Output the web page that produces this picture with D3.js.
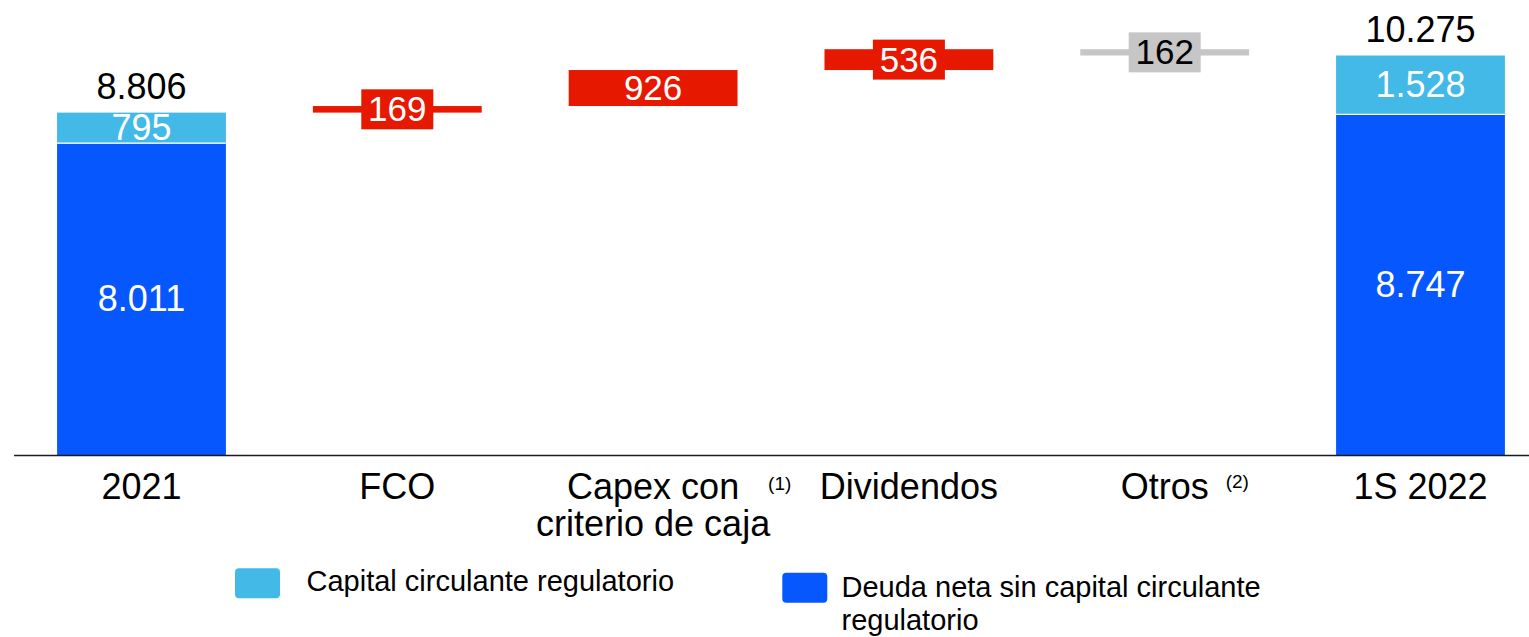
<!DOCTYPE html>
<html>
<head>
<meta charset="utf-8">
<script src="https://cdn.jsdelivr.net/npm/d3@7"></script>
<style>
  body { margin: 0; background: #fff; }
  svg { display: block; font-family: "Liberation Sans", Arial, sans-serif; }
</style>
</head>
<body>
<svg id="chart" width="1529" height="637"></svg>
<script>
// Data
var categories = ["2021", "FCO", "Capex", "Dividendos", "Otros", "1S 2022"];
var axisLabels = [["2021"], ["FCO"], ["Capex con", "criterio de caja"], ["Dividendos"], ["Otros"], ["1S 2022"]];
var footnotes = ["", "", "(1)", "", "(2)", ""];
var capitalCirculante = [795, null, null, null, null, 1528];
var deudaSinCapital = [8011, null, null, null, null, 8747];
var variations = [null, 169, 926, 536, -162, null];
var legendLabels = [["Capital circulante regulatorio"], ["Deuda neta sin capital circulante", "regulatorio"]];

var colors = { capital: "#42b9e6", deuda: "#0757fe", up: "#e61900", down: "#c6c6c6" };
var fmt = function (v) { return d3.format(",")(v).replace(/,/g, "."); };

var svg = d3.select("#chart");
var baseY = 455;

var x = d3.scaleBand()
    .domain(categories)
    .range([13.6, 13.6 + 6 * 255.8])
    .paddingInner(0.34)
    .paddingOuter(0.17);

var y = d3.scaleLinear().domain([0, 10275]).range([baseY, 55.5]);

// Build waterfall steps
var steps = [], running = 0;
categories.forEach(function (c, i) {
    if (variations[i] === null) {
        running = capitalCirculante[i] + deudaSinCapital[i];
        steps.push({ cat: c, type: "total", net: deudaSinCapital[i], wc: capitalCirculante[i], total: running });
    } else {
        var start = running;
        running += variations[i];
        steps.push({ cat: c, type: "delta", value: variations[i], lo: Math.min(start, running), hi: Math.max(start, running) });
    }
});

var totals = steps.filter(function (d) { return d.type == "total"; });
var deltas = steps.filter(function (d) { return d.type == "delta"; });

// Stacked total bars
svg.selectAll("rect.net").data(totals).enter().append("rect")
    .attr("x", function (d) { return x(d.cat); })
    .attr("width", x.bandwidth())
    .attr("y", function (d) { return y(d.net); })
    .attr("height", function (d) { return y(0) - y(d.net); })
    .attr("fill", colors.deuda);

svg.selectAll("rect.wc").data(totals).enter().append("rect")
    .attr("x", function (d) { return x(d.cat); })
    .attr("width", x.bandwidth())
    .attr("y", function (d) { return y(d.total); })
    .attr("height", function (d) { return y(d.net) - y(d.total); })
    .attr("fill", colors.capital);

// white separator between segments
svg.selectAll("line.sep").data(totals).enter().append("line")
    .attr("x1", function (d) { return x(d.cat); })
    .attr("x2", function (d) { return x(d.cat) + x.bandwidth(); })
    .attr("y1", function (d) { return y(d.net) - 0.5; })
    .attr("y2", function (d) { return y(d.net) - 0.5; })
    .attr("stroke", "#fff").attr("stroke-width", 1.2);

// Floating delta bars
svg.selectAll("rect.delta").data(deltas).enter().append("rect")
    .attr("x", function (d) { return x(d.cat); })
    .attr("width", x.bandwidth())
    .attr("y", function (d) { return y(d.hi); })
    .attr("height", function (d) { return y(d.lo) - y(d.hi); })
    .attr("fill", function (d) { return d.value > 0 ? colors.up : colors.down; });

// Label boxes for thin delta bars
var boxW = 72, boxH = 40;
deltas.forEach(function (d) {
    var cx = x(d.cat) + x.bandwidth() / 2;
    var cy = (y(d.hi) + y(d.lo)) / 2;
    if (y(d.lo) - y(d.hi) < 30) {
        svg.append("rect")
            .attr("x", cx - boxW / 2).attr("y", cy - boxH / 2)
            .attr("width", boxW).attr("height", boxH)
            .attr("fill", d.value > 0 ? colors.up : colors.down);
    }
    svg.append("text")
        .attr("x", cx).attr("y", cy + 12)
        .attr("text-anchor", "middle")
        .attr("font-size", 35)
        .attr("fill", d.value > 0 ? "#fff" : "#000")
        .text(fmt(Math.abs(d.value)));
});

// Labels on total bars
totals.forEach(function (d) {
    var cx = x(d.cat) + x.bandwidth() / 2;
    svg.append("text").attr("x", cx).attr("y", y(d.total) - 14)
        .attr("text-anchor", "middle").attr("font-size", 36).attr("fill", "#000")
        .text(fmt(d.total));
    svg.append("text").attr("x", cx).attr("y", (y(d.total) + y(d.net)) / 2 + 12)
        .attr("text-anchor", "middle").attr("font-size", 36).attr("fill", "#fff")
        .text(fmt(d.wc));
    svg.append("text").attr("x", cx).attr("y", (y(d.net) + y(0)) / 2 + 12)
        .attr("text-anchor", "middle").attr("font-size", 36).attr("fill", "#fff")
        .text(fmt(d.net));
});

// X axis
var axis = svg.append("g")
    .attr("transform", "translate(0," + baseY + ")")
    .call(d3.axisBottom(x).tickSize(0).tickSizeOuter(0).tickPadding(18).tickFormat(""));
axis.attr("font-family", null);
axis.select(".domain").attr("stroke", "#1a1a1a").attr("stroke-width", 1.7);

axis.selectAll(".tick").each(function (c, i) {
    var g = d3.select(this);
    g.select("text").remove();
    var lines = axisLabels[i];
    var t = g.append("text")
        .attr("fill", "#000")
        .attr("font-size", 36)
        .attr("text-anchor", "middle");
    lines.forEach(function (l, k) {
        t.append("tspan").attr("x", 0).attr("y", 44 + k * 37).text(l);
    });
    if (footnotes[i]) {
        var fx = (c == "Capex") ? 115 : 61;
        g.append("text")
            .attr("x", fx).attr("y", c == "Capex" ? 35 : 33)
            .attr("text-anchor", "start")
            .attr("font-size", 19).attr("fill", "#000")
            .text(footnotes[i]);
    }
});

// Legend
var legendItems = [
    { color: colors.capital, x: 235, y: 568.3, tx: 306.5, ty: 590.7, lines: legendLabels[0] },
    { color: colors.deuda, x: 782.3, y: 572.7, tx: 841.5, ty: 597.3, lines: legendLabels[1] }
];
legendItems.forEach(function (it) {
    svg.append("rect")
        .attr("x", it.x).attr("y", it.y).attr("width", 45).attr("height", 30)
        .attr("rx", 4).attr("fill", it.color);
    var t = svg.append("text").attr("font-size", 29).attr("fill", "#000");
    it.lines.forEach(function (l, k) {
        t.append("tspan").attr("x", it.tx).attr("y", it.ty + k * 33).text(l);
    });
});
</script>
</body>
</html>
